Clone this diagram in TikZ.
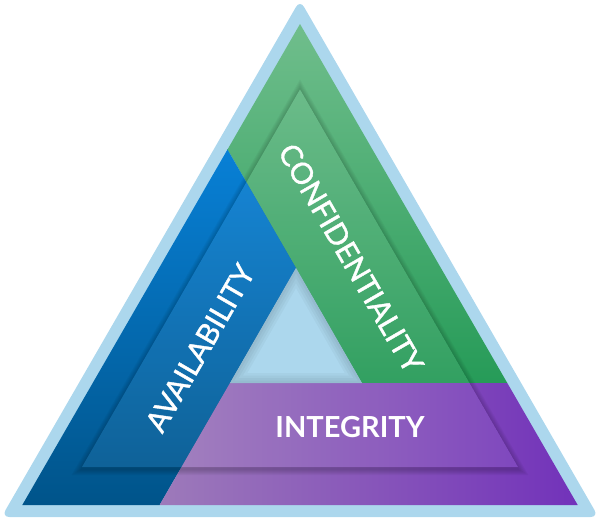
\documentclass[tikz,border=0pt]{standalone}
\usepackage{fontspec}
\setmainfont{Lato}
\newfontfamily\bandfont{Lato}[FakeBold=1.3]
\usetikzlibrary{positioning,calc}
\definecolor{frameblue}{RGB}{172,215,237}
\definecolor{greentop}{RGB}{112,190,140}
\definecolor{greenbot}{RGB}{38,155,88}
\definecolor{bluetop}{RGB}{8,128,214}
\definecolor{bluebot}{RGB}{0,84,138}
\definecolor{purpleleft}{RGB}{157,122,186}
\definecolor{purpleright}{RGB}{114,50,186}
\tikzstyle{greenband}=[top color=greentop,bottom color=greenbot]
\tikzstyle{blueband}=[top color=bluetop,bottom color=bluebot]
\tikzstyle{purpleband}=[left color=purpleleft,right color=purpleright]
\tikzstyle{band label}=[text=white,inner sep=0pt,font=\bandfont\fontsize{14.8}{16}\selectfont]

\begin{document}
\begin{tikzpicture}[x=0.5pt,y=-0.5pt]
  \useasboundingbox (0,0) rectangle (600,520);
  \foreach \pos / \name in {{(300,24)/apex}, {(22.3,505)/bl}, {(577.7,505)/br},
                            {(296,268)/it}, {(230,383)/il}, {(362,383)/ir},
                            {(159.6,505)/bluecut}, {(227.5,149.5)/greencut},
                            {(507.3,383)/purplecut},
                            {(300,89.4)/mt}, {(82,467)/ml}, {(518,467)/mr}}
    \path \pos coordinate (\name);

  % light blue frame
  \fill[frameblue,rounded corners=4] (300,0) -- (1.5,517) -- (598.5,517) -- cycle;

  % the three bands
  \shade[greenband] (apex) -- (purplecut) -- (ir) -- (it) -- (greencut) -- cycle;
  \shade[blueband] (bl) -- (bluecut) -- (il) -- (it) -- (greencut) -- cycle;
  \shade[purpleband] (bluecut) -- (br) -- (purplecut) -- (il) -- cycle;
  \fill[frameblue] (it) -- (il) -- (ir) -- cycle;

  % soft shadow under the raised strip
  \foreach \d in {1,...,6}
    \fill[black,opacity=0.035]
      ($(mt)+(0,2-2*\d)$) -- ($(ml)+(-1.732*\d,2+\d)$) -- ($(mr)+(1.732*\d,2+\d)$) -- cycle;

  % raised strip
  \begin{scope}
    \clip (mt) -- (ml) -- (mr) -- cycle;
    \shade[greenband] (apex) -- (purplecut) -- (ir) -- (it) -- (greencut) -- cycle;
    \shade[blueband] (bl) -- (bluecut) -- (il) -- (it) -- (greencut) -- cycle;
    \shade[purpleband] (bluecut) -- (br) -- (purplecut) -- (il) -- cycle;
    \fill[white,opacity=0.06] (mt) -- (ml) -- (mr) -- cycle;
    \fill[frameblue] (it) -- (il) -- (ir) -- cycle;
  \end{scope}

  % inner shade of the hole
  \begin{scope}
    \clip (it) -- (il) -- (ir) -- cycle;
    \foreach \d in {1,...,4}
      \draw[black,opacity=0.03,line width=\d*2.5] (it) -- (il) -- (ir) -- cycle;
  \end{scope}

  \node[band label,rotate=-60] (conf) at (351,258) {CONFIDENTIALITY};
  \node[band label,rotate=60] (avail) at (200,348) {AVAILABILITY};
  \node[band label,font=\fontsize{14.5}{16}\selectfont\bfseries] (integ) at (350,427) {INTEGRITY};
\end{tikzpicture}
\end{document}
